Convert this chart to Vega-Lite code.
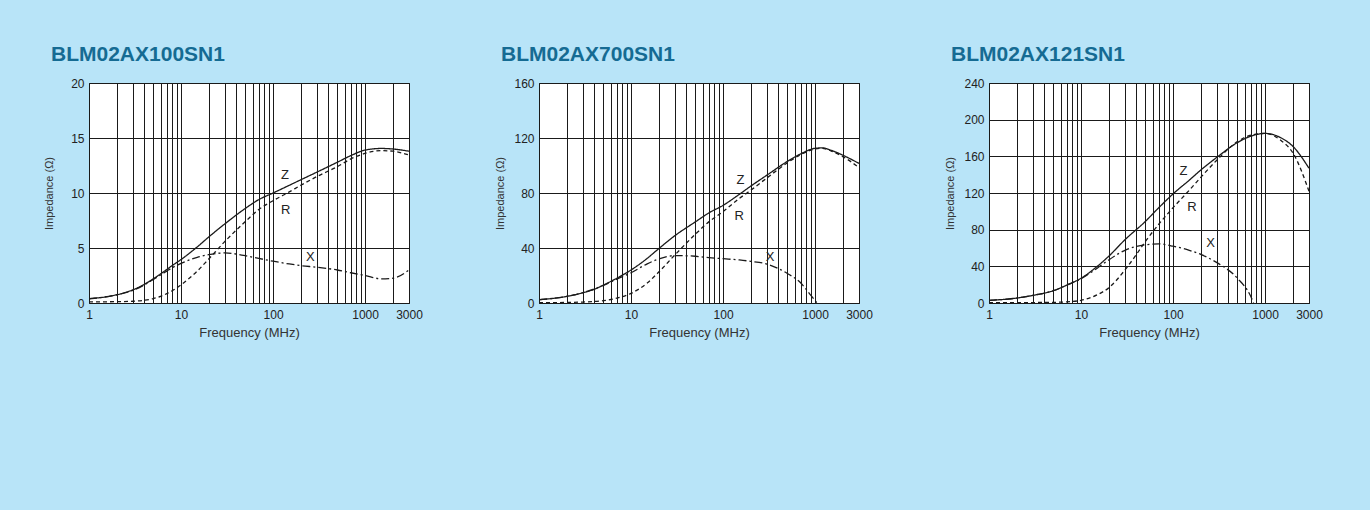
{
  "$schema": "https://vega.github.io/schema/vega-lite/v6.json",
  "background": "#b8e4f8",
  "padding": {"left": 43, "top": 43, "right": 63, "bottom": 172},
  "config": {
    "font": "Liberation Sans",
    "view": {"stroke": "#111111", "strokeWidth": 1, "fill": "white"},
    "title": {"anchor": "start", "frame": "group", "dx": -38, "fontSize": 21, "fontWeight": "bold", "color": "#156b93", "offset": 12, "font": "Liberation Sans"},
    "axis": {"labelFont": "Liberation Sans", "titleFont": "Liberation Sans", "labelColor": "#222222", "titleColor": "#333333", "titleFontWeight": "normal"}
  },
  "datasets": {
    "curves": [
      {"p":"A","s":"Z","f":1,"v":0.4},{"p":"A","s":"Z","f":1.5,"v":0.55},{"p":"A","s":"Z","f":2,"v":0.75},{"p":"A","s":"Z","f":3,"v":1.2},{"p":"A","s":"Z","f":4,"v":1.7},{"p":"A","s":"Z","f":5,"v":2.2},{"p":"A","s":"Z","f":6,"v":2.65},{"p":"A","s":"Z","f":7,"v":3.05},{"p":"A","s":"Z","f":8,"v":3.4},{"p":"A","s":"Z","f":10,"v":3.95},{"p":"A","s":"Z","f":15,"v":5.1},{"p":"A","s":"Z","f":20,"v":6.0},{"p":"A","s":"Z","f":30,"v":7.2},{"p":"A","s":"Z","f":50,"v":8.6},{"p":"A","s":"Z","f":70,"v":9.4},{"p":"A","s":"Z","f":100,"v":10.0},{"p":"A","s":"Z","f":150,"v":10.7},{"p":"A","s":"Z","f":200,"v":11.2},{"p":"A","s":"Z","f":300,"v":11.9},{"p":"A","s":"Z","f":500,"v":12.8},{"p":"A","s":"Z","f":700,"v":13.4},{"p":"A","s":"Z","f":1000,"v":13.9},{"p":"A","s":"Z","f":1500,"v":14.05},{"p":"A","s":"Z","f":2000,"v":14.0},{"p":"A","s":"Z","f":3000,"v":13.8},
      {"p":"A","s":"R","f":1,"v":0.1},{"p":"A","s":"R","f":2,"v":0.12},{"p":"A","s":"R","f":3,"v":0.16},{"p":"A","s":"R","f":4,"v":0.25},{"p":"A","s":"R","f":5,"v":0.4},{"p":"A","s":"R","f":6,"v":0.6},{"p":"A","s":"R","f":7,"v":0.85},{"p":"A","s":"R","f":8,"v":1.1},{"p":"A","s":"R","f":10,"v":1.65},{"p":"A","s":"R","f":15,"v":2.9},{"p":"A","s":"R","f":20,"v":4.0},{"p":"A","s":"R","f":30,"v":5.6},{"p":"A","s":"R","f":50,"v":7.4},{"p":"A","s":"R","f":70,"v":8.5},{"p":"A","s":"R","f":100,"v":9.3},{"p":"A","s":"R","f":150,"v":10.1},{"p":"A","s":"R","f":200,"v":10.7},{"p":"A","s":"R","f":300,"v":11.5},{"p":"A","s":"R","f":500,"v":12.4},{"p":"A","s":"R","f":700,"v":13.1},{"p":"A","s":"R","f":1000,"v":13.6},{"p":"A","s":"R","f":1500,"v":13.85},{"p":"A","s":"R","f":2000,"v":13.8},{"p":"A","s":"R","f":3000,"v":13.45},
      {"p":"A","s":"X","f":1,"v":0.38},{"p":"A","s":"X","f":2,"v":0.74},{"p":"A","s":"X","f":3,"v":1.15},{"p":"A","s":"X","f":4,"v":1.65},{"p":"A","s":"X","f":5,"v":2.15},{"p":"A","s":"X","f":6,"v":2.55},{"p":"A","s":"X","f":7,"v":2.9},{"p":"A","s":"X","f":8,"v":3.2},{"p":"A","s":"X","f":10,"v":3.6},{"p":"A","s":"X","f":15,"v":4.15},{"p":"A","s":"X","f":20,"v":4.4},{"p":"A","s":"X","f":30,"v":4.55},{"p":"A","s":"X","f":50,"v":4.3},{"p":"A","s":"X","f":70,"v":4.05},{"p":"A","s":"X","f":100,"v":3.8},{"p":"A","s":"X","f":150,"v":3.55},{"p":"A","s":"X","f":200,"v":3.4},{"p":"A","s":"X","f":300,"v":3.25},{"p":"A","s":"X","f":500,"v":3.0},{"p":"A","s":"X","f":700,"v":2.75},{"p":"A","s":"X","f":1000,"v":2.5},{"p":"A","s":"X","f":1500,"v":2.2},{"p":"A","s":"X","f":2000,"v":2.25},{"p":"A","s":"X","f":3000,"v":3.0},
      {"p":"B","s":"Z","f":1,"v":2.4},{"p":"B","s":"Z","f":2,"v":4.8},{"p":"B","s":"Z","f":3,"v":7.5},{"p":"B","s":"Z","f":4,"v":10},{"p":"B","s":"Z","f":5,"v":13},{"p":"B","s":"Z","f":7,"v":18},{"p":"B","s":"Z","f":10,"v":24},{"p":"B","s":"Z","f":15,"v":32.5},{"p":"B","s":"Z","f":20,"v":39.5},{"p":"B","s":"Z","f":30,"v":49},{"p":"B","s":"Z","f":50,"v":59},{"p":"B","s":"Z","f":70,"v":65.5},{"p":"B","s":"Z","f":100,"v":71},{"p":"B","s":"Z","f":150,"v":79},{"p":"B","s":"Z","f":200,"v":85},{"p":"B","s":"Z","f":300,"v":93},{"p":"B","s":"Z","f":500,"v":103},{"p":"B","s":"Z","f":700,"v":108.5},{"p":"B","s":"Z","f":1000,"v":112.5},{"p":"B","s":"Z","f":1200,"v":112.8},{"p":"B","s":"Z","f":1500,"v":111},{"p":"B","s":"Z","f":2000,"v":107.5},{"p":"B","s":"Z","f":3000,"v":101.5},
      {"p":"B","s":"R","f":1,"v":0.2},{"p":"B","s":"R","f":2,"v":0.4},{"p":"B","s":"R","f":3,"v":0.7},{"p":"B","s":"R","f":5,"v":1.7},{"p":"B","s":"R","f":7,"v":3.5},{"p":"B","s":"R","f":10,"v":7},{"p":"B","s":"R","f":15,"v":14.5},{"p":"B","s":"R","f":20,"v":22.5},{"p":"B","s":"R","f":30,"v":35},{"p":"B","s":"R","f":50,"v":50},{"p":"B","s":"R","f":70,"v":59},{"p":"B","s":"R","f":100,"v":66.5},{"p":"B","s":"R","f":150,"v":76},{"p":"B","s":"R","f":200,"v":82},{"p":"B","s":"R","f":300,"v":91},{"p":"B","s":"R","f":500,"v":102},{"p":"B","s":"R","f":700,"v":108},{"p":"B","s":"R","f":1000,"v":112},{"p":"B","s":"R","f":1200,"v":112.5},{"p":"B","s":"R","f":1500,"v":110.5},{"p":"B","s":"R","f":2000,"v":106.5},{"p":"B","s":"R","f":3000,"v":98.5},
      {"p":"B","s":"X","f":1,"v":2.4},{"p":"B","s":"X","f":2,"v":4.8},{"p":"B","s":"X","f":3,"v":7.5},{"p":"B","s":"X","f":5,"v":12.8},{"p":"B","s":"X","f":7,"v":17.3},{"p":"B","s":"X","f":10,"v":22},{"p":"B","s":"X","f":15,"v":28.5},{"p":"B","s":"X","f":20,"v":32},{"p":"B","s":"X","f":30,"v":34.5},{"p":"B","s":"X","f":50,"v":34},{"p":"B","s":"X","f":70,"v":33},{"p":"B","s":"X","f":100,"v":32.2},{"p":"B","s":"X","f":150,"v":31.3},{"p":"B","s":"X","f":200,"v":30.3},{"p":"B","s":"X","f":300,"v":28.3},{"p":"B","s":"X","f":500,"v":21.5},{"p":"B","s":"X","f":700,"v":14.5},{"p":"B","s":"X","f":900,"v":5.5},{"p":"B","s":"X","f":1050,"v":0},
      {"p":"C","s":"Z","f":1,"v":2.9},{"p":"C","s":"Z","f":2,"v":5.4},{"p":"C","s":"Z","f":3,"v":8.3},{"p":"C","s":"Z","f":5,"v":13.4},{"p":"C","s":"Z","f":7,"v":19.5},{"p":"C","s":"Z","f":10,"v":27},{"p":"C","s":"Z","f":15,"v":40},{"p":"C","s":"Z","f":20,"v":51},{"p":"C","s":"Z","f":30,"v":69},{"p":"C","s":"Z","f":50,"v":89},{"p":"C","s":"Z","f":70,"v":104},{"p":"C","s":"Z","f":100,"v":119},{"p":"C","s":"Z","f":150,"v":134},{"p":"C","s":"Z","f":200,"v":145},{"p":"C","s":"Z","f":300,"v":159},{"p":"C","s":"Z","f":500,"v":175},{"p":"C","s":"Z","f":700,"v":182},{"p":"C","s":"Z","f":1000,"v":185},{"p":"C","s":"Z","f":1500,"v":180},{"p":"C","s":"Z","f":2000,"v":171},{"p":"C","s":"Z","f":3000,"v":147},
      {"p":"C","s":"R","f":1,"v":0.3},{"p":"C","s":"R","f":3,"v":0.5},{"p":"C","s":"R","f":5,"v":0.7},{"p":"C","s":"R","f":7,"v":1.3},{"p":"C","s":"R","f":10,"v":2.9},{"p":"C","s":"R","f":15,"v":9},{"p":"C","s":"R","f":20,"v":16.5},{"p":"C","s":"R","f":30,"v":36},{"p":"C","s":"R","f":40,"v":53},{"p":"C","s":"R","f":50,"v":67},{"p":"C","s":"R","f":70,"v":86},{"p":"C","s":"R","f":100,"v":104},{"p":"C","s":"R","f":150,"v":123},{"p":"C","s":"R","f":200,"v":137},{"p":"C","s":"R","f":300,"v":156},{"p":"C","s":"R","f":500,"v":176},{"p":"C","s":"R","f":700,"v":183},{"p":"C","s":"R","f":1000,"v":185},{"p":"C","s":"R","f":1500,"v":177},{"p":"C","s":"R","f":2000,"v":164},{"p":"C","s":"R","f":3000,"v":122},
      {"p":"C","s":"X","f":1,"v":2.9},{"p":"C","s":"X","f":2,"v":5.4},{"p":"C","s":"X","f":3,"v":8.3},{"p":"C","s":"X","f":5,"v":13.4},{"p":"C","s":"X","f":7,"v":19.5},{"p":"C","s":"X","f":10,"v":26.5},{"p":"C","s":"X","f":15,"v":38},{"p":"C","s":"X","f":20,"v":47},{"p":"C","s":"X","f":30,"v":57.5},{"p":"C","s":"X","f":50,"v":63.5},{"p":"C","s":"X","f":70,"v":64.5},{"p":"C","s":"X","f":100,"v":62},{"p":"C","s":"X","f":150,"v":57.5},{"p":"C","s":"X","f":200,"v":53},{"p":"C","s":"X","f":300,"v":44},{"p":"C","s":"X","f":500,"v":27},{"p":"C","s":"X","f":700,"v":7},{"p":"C","s":"X","f":750,"v":0}
    ],
    "labels": [
      {"p":"A","s":"Z","f":135,"v":11.6},{"p":"A","s":"R","f":137,"v":8.5},{"p":"A","s":"X","f":254,"v":4.15},
      {"p":"B","s":"Z","f":155,"v":89.4},{"p":"B","s":"R","f":150,"v":63.6},{"p":"B","s":"X","f":324,"v":33.1},
      {"p":"C","s":"Z","f":130,"v":144},{"p":"C","s":"R","f":160,"v":105},{"p":"C","s":"X","f":256,"v":65}
    ]
  },
  "spacing": 130,
  "bounds": "flush",
  "hconcat": [
    {
      "width": 320, "height": 220,
      "title": {"text": "BLM02AX100SN1"},
      "layer": [
        {
          "data": {"name": "curves"},
          "transform": [{"filter": "datum.p == 'A'"}],
          "mark": {"type": "line", "interpolate": "monotone", "color": "#1a1a1a", "strokeWidth": 1.3},
          "encoding": {
            "x": {"field": "f", "type": "quantitative", "title": "Frequency (MHz)", "scale": {"type": "log", "domain": [1, 3000], "nice": false},
              "axis": {"values": [1,2,3,4,5,6,7,8,9,10,20,30,40,50,60,70,80,90,100,200,300,400,500,600,700,800,900,1000,2000,3000], "tickCount": 100, "grid": true, "gridColor": "#1a1a1a", "gridOpacity": 1, "gridWidth": 1, "ticks": false, "domain": false, "labelOverlap": false, "labelFlush": false, "labelFontSize": 12, "labelPadding": 6, "labelExpr": "(datum.value == 1 || datum.value == 10 || datum.value == 100 || datum.value == 1000 || datum.value == 3000) ? format(datum.value, 'd') : ''", "titleFontSize": 13, "titlePadding": 6}},
            "y": {"field": "v", "type": "quantitative", "title": "Impedance (Ω)", "scale": {"domain": [0, 20], "nice": false, "zero": true},
              "axis": {"values": [0,5,10,15,20], "format": "d", "tickCount": 100, "labelOverlap": false, "grid": true, "gridColor": "#1a1a1a", "gridOpacity": 1, "gridWidth": 1, "ticks": false, "domain": false, "labelFontSize": 12, "labelPadding": 5, "titleFontSize": 11, "titlePadding": 16}},
            "strokeDash": {"field": "s", "type": "nominal", "scale": {"domain": ["Z","R","X"], "range": [[1,0],[4,3],[8,3,2,3]]}, "legend": null},
            "detail": {"field": "s"}
          }
        },
        {
          "data": {"name": "labels"},
          "transform": [{"filter": "datum.p == 'A'"}],
          "mark": {"type": "text", "fontSize": 13, "color": "#222222", "font": "Liberation Sans"},
          "encoding": {
            "x": {"field": "f", "type": "quantitative", "title": "Frequency (MHz)"},
            "y": {"field": "v", "type": "quantitative", "title": "Impedance (Ω)"},
            "text": {"field": "s"}
          }
        }
      ]
    },
    {
      "width": 320, "height": 220,
      "title": {"text": "BLM02AX700SN1"},
      "layer": [
        {
          "data": {"name": "curves"},
          "transform": [{"filter": "datum.p == 'B'"}],
          "mark": {"type": "line", "interpolate": "monotone", "color": "#1a1a1a", "strokeWidth": 1.3},
          "encoding": {
            "x": {"field": "f", "type": "quantitative", "title": "Frequency (MHz)", "scale": {"type": "log", "domain": [1, 3000], "nice": false},
              "axis": {"values": [1,2,3,4,5,6,7,8,9,10,20,30,40,50,60,70,80,90,100,200,300,400,500,600,700,800,900,1000,2000,3000], "tickCount": 100, "grid": true, "gridColor": "#1a1a1a", "gridOpacity": 1, "gridWidth": 1, "ticks": false, "domain": false, "labelOverlap": false, "labelFlush": false, "labelFontSize": 12, "labelPadding": 6, "labelExpr": "(datum.value == 1 || datum.value == 10 || datum.value == 100 || datum.value == 1000 || datum.value == 3000) ? format(datum.value, 'd') : ''", "titleFontSize": 13, "titlePadding": 6}},
            "y": {"field": "v", "type": "quantitative", "title": "Impedance (Ω)", "scale": {"domain": [0, 160], "nice": false, "zero": true},
              "axis": {"values": [0,40,80,120,160], "format": "d", "tickCount": 100, "labelOverlap": false, "grid": true, "gridColor": "#1a1a1a", "gridOpacity": 1, "gridWidth": 1, "ticks": false, "domain": false, "labelFontSize": 12, "labelPadding": 5, "titleFontSize": 11, "titlePadding": 8}},
            "strokeDash": {"field": "s", "type": "nominal", "scale": {"domain": ["Z","R","X"], "range": [[1,0],[4,3],[8,3,2,3]]}, "legend": null},
            "detail": {"field": "s"}
          }
        },
        {
          "data": {"name": "labels"},
          "transform": [{"filter": "datum.p == 'B'"}],
          "mark": {"type": "text", "fontSize": 13, "color": "#222222", "font": "Liberation Sans"},
          "encoding": {
            "x": {"field": "f", "type": "quantitative", "title": "Frequency (MHz)"},
            "y": {"field": "v", "type": "quantitative", "title": "Impedance (Ω)"},
            "text": {"field": "s"}
          }
        }
      ]
    },
    {
      "width": 320, "height": 220,
      "title": {"text": "BLM02AX121SN1"},
      "layer": [
        {
          "data": {"name": "curves"},
          "transform": [{"filter": "datum.p == 'C'"}],
          "mark": {"type": "line", "interpolate": "monotone", "color": "#1a1a1a", "strokeWidth": 1.3},
          "encoding": {
            "x": {"field": "f", "type": "quantitative", "title": "Frequency (MHz)", "scale": {"type": "log", "domain": [1, 3000], "nice": false},
              "axis": {"values": [1,2,3,4,5,6,7,8,9,10,20,30,40,50,60,70,80,90,100,200,300,400,500,600,700,800,900,1000,2000,3000], "tickCount": 100, "grid": true, "gridColor": "#1a1a1a", "gridOpacity": 1, "gridWidth": 1, "ticks": false, "domain": false, "labelOverlap": false, "labelFlush": false, "labelFontSize": 12, "labelPadding": 6, "labelExpr": "(datum.value == 1 || datum.value == 10 || datum.value == 100 || datum.value == 1000 || datum.value == 3000) ? format(datum.value, 'd') : ''", "titleFontSize": 13, "titlePadding": 6}},
            "y": {"field": "v", "type": "quantitative", "title": "Impedance (Ω)", "scale": {"domain": [0, 240], "nice": false, "zero": true},
              "axis": {"values": [0,40,80,120,160,200,240], "format": "d", "tickCount": 100, "labelOverlap": false, "grid": true, "gridColor": "#1a1a1a", "gridOpacity": 1, "gridWidth": 1, "ticks": false, "domain": false, "labelFontSize": 12, "labelPadding": 5, "titleFontSize": 11, "titlePadding": 8}},
            "strokeDash": {"field": "s", "type": "nominal", "scale": {"domain": ["Z","R","X"], "range": [[1,0],[4,3],[8,3,2,3]]}, "legend": null},
            "detail": {"field": "s"}
          }
        },
        {
          "data": {"name": "labels"},
          "transform": [{"filter": "datum.p == 'C'"}],
          "mark": {"type": "text", "fontSize": 13, "color": "#222222", "font": "Liberation Sans"},
          "encoding": {
            "x": {"field": "f", "type": "quantitative", "title": "Frequency (MHz)"},
            "y": {"field": "v", "type": "quantitative", "title": "Impedance (Ω)"},
            "text": {"field": "s"}
          }
        }
      ]
    }
  ]
}
